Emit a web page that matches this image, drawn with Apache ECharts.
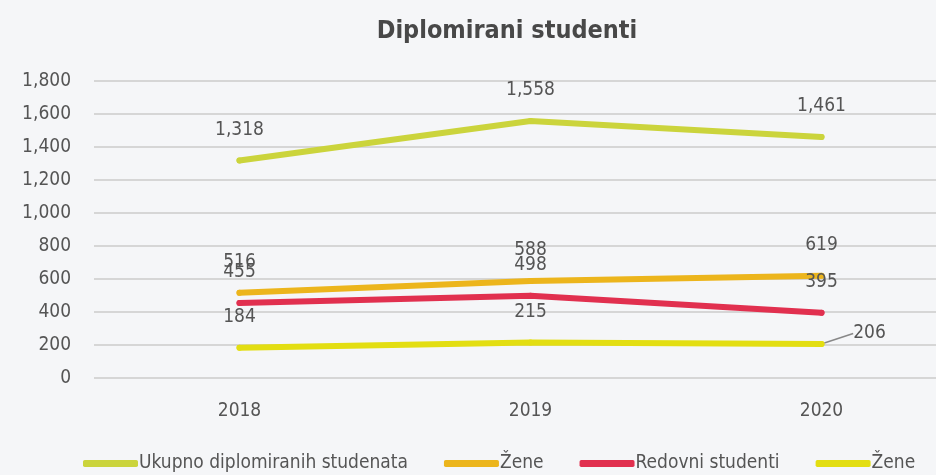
<!DOCTYPE html>
<html>
<head>
<meta charset="utf-8">
<script src="https://cdn.jsdelivr.net/npm/echarts@6/dist/echarts.min.js"></script>
<style>
  html, body { margin: 0; padding: 0; background: #f5f6f8; }
  #chart { width: 936px; height: 475px; }
</style>
</head>
<body>
<div id="chart"></div>
<script>
// categories and series values
const years = ['2018', '2019', '2020'];
const ukupno = [1318, 1558, 1461];
const zeneUkupno = [516, 588, 619];
const redovni = [455, 498, 395];
const zeneRedovni = [184, 215, 206];

const FONT = '"Liberation Sans Narrow", "DejaVu Sans Condensed", "Roboto Condensed", sans-serif';
const fmt = (v) => Number(v).toLocaleString('en-US');

function lineSeries(name, data, color, extra) {
  return Object.assign({
    name: name,
    type: 'line',
    data: data,
    symbol: 'circle',
    symbolSize: 6,
    lineStyle: { width: 6, color: color, cap: 'round' },
    itemStyle: { color: color },
    labelLine: { show: false },
    label: {
      show: true,
      position: 'top',
      distance: 18,
      color: '#555',
      fontFamily: FONT,
      fontSize: 19,
      formatter: (p) => fmt(p.value)
    }
  }, extra || {});
}

// only the last point of the last series gets a leader line
const zeneRedovniData = zeneRedovni.map((v, i) => i === 2
  ? { value: v, labelLine: { show: true, lineStyle: { color: '#888', width: 1.5 } } }
  : v);

let chart = echarts.init(document.getElementById('chart'));
chart.setOption({
  backgroundColor: '#f5f6f8',
  animation: false,
  title: {
    text: 'Diplomirani studenti',
    left: 502,
    textAlign: 'center',
    top: 14,
    textStyle: { fontFamily: FONT, fontSize: 25, fontWeight: 'bold', color: '#484848' }
  },
  grid: { left: 94, width: 873, top: 81, bottom: 97, containLabel: false, outerBoundsMode: 'none' },
  legend: {
    top: 449,
    left: 78,
    itemWidth: 55,
    itemHeight: 7,
    itemGap: 36,
    icon: 'roundRect',
    textStyle: { fontFamily: FONT, fontSize: 19, color: '#555', padding: [0, 0, 0, -4] },
    data: ['Ukupno diplomiranih studenata', 'Žene', 'Redovni studenti', 'Žene ']
  },
  xAxis: {
    type: 'category',
    data: years,
    boundaryGap: true,
    axisLine: { show: false },
    axisTick: { show: false },
    axisLabel: { margin: 24, color: '#555', fontFamily: FONT, fontSize: 19 }
  },
  yAxis: {
    type: 'value',
    min: 0,
    max: 1800,
    interval: 200,
    axisLabel: { margin: 23, color: '#555', fontFamily: FONT, fontSize: 19, formatter: fmt },
    splitLine: { lineStyle: { color: '#d6d6d6', width: 2 } }
  },
  series: [
    lineSeries('Ukupno diplomiranih studenata', ukupno, '#cbd43c'),
    lineSeries('Žene', zeneUkupno, '#ecb51c'),
    lineSeries('Redovni studenti', redovni, '#e1304f', { z: 3 }),
    lineSeries('Žene ', zeneRedovniData, '#e3de12', {
      labelLayout: (p) => p.dataIndex === 2 ? { dx: 48, dy: 20 } : {}
    })
  ]
});
</script>
</body>
</html>
